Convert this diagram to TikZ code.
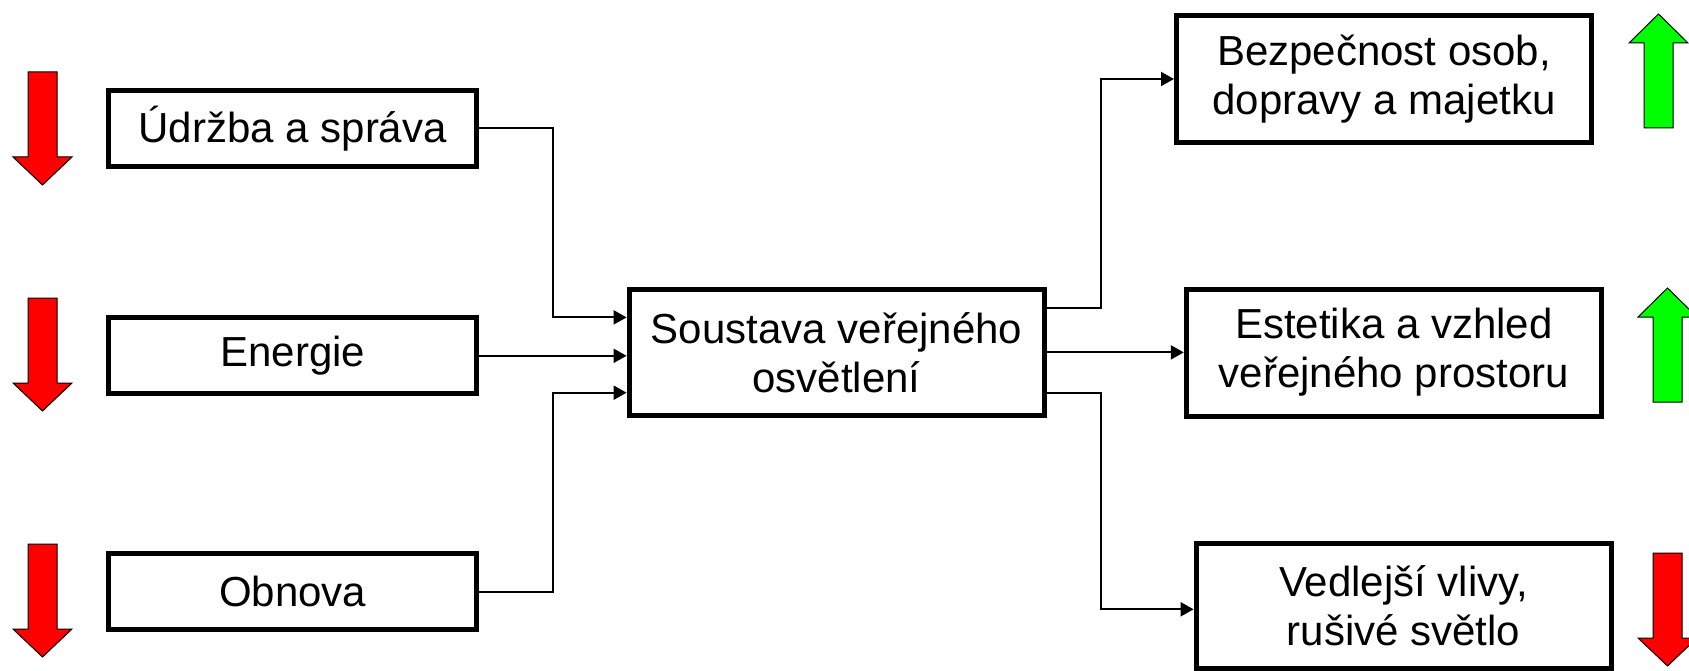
\documentclass[tikz,border=0pt]{standalone}
\usepackage{fontspec}
\setmainfont{Liberation Sans}
\usetikzlibrary{arrows.meta}
\definecolor{trendred}{RGB}{255,0,0}
\definecolor{trendgreen}{RGB}{0,255,0}
\tikzset{
  box/.style={draw=black, line width=5pt, fill=white, inner sep=0pt,
    align=center, font=\fontsize{42}{49}\selectfont},
  inbox/.style={box, minimum width=368pt, minimum height=76pt},
  outbox/.style={box, minimum width=415pt, minimum height=127pt},
  conn/.style={draw=black, line width=2pt, -{Triangle[length=13pt,width=14pt]}},
  link/.style={draw=black, line width=2pt},
  trend/.style={draw=black, line width=1pt, line join=miter},
  pics/trenddown/.style={code={
    \path[pic actions] (-14.5,0) -- (14.5,0) -- (14.5,85) -- (29.5,85)
      -- (0,113) -- (-29.5,85) -- (-14.5,85) -- cycle;}},
  pics/trendup/.style={code={
    \path[pic actions] (0,0) -- (29.5,29) -- (14.5,29) -- (14.5,114)
      -- (-14.5,114) -- (-14.5,29) -- (-29.5,29) -- cycle;}},
}
\begin{document}
\begin{tikzpicture}[x=1pt, y=-1pt]
\useasboundingbox (0,0) rectangle (1689,671);

% inputs
\node[inbox] (u)  at (292.7,128.5) {Údržba a správa};
\node[inbox] (en) at (292.7,355.8) {Energie};
\node[inbox] (o)  at (292.7,591.8) {Obnova};

% system
\node[box, minimum width=415pt, minimum height=126pt] (c) at (836.6,352.4)
  {Soustava veřejného\\osvětlení};

% effects
\node[outbox] (b) at (1384,79)    {Bezpečnost osob,\\dopravy a majetku};
\node[outbox] (e) at (1393.8,352.5) {Estetika a vzhled\\veřejného prostoru};
\node[outbox, minimum height=125pt] (v) at (1403.6,605.5) {Vedlejší vlivy,\\rušivé světlo};

% bus lines
\coordinate (lx) at (552.7,0);
\coordinate (rx) at (1101,0);
\coordinate (cin1)  at ([yshift=35pt]c.west);
\coordinate (cin3)  at ([yshift=-40.3pt]c.west);
\coordinate (cout1) at ([yshift=44.6pt]c.east);
\coordinate (cout3) at ([yshift=-40.3pt]c.east);
\coordinate (vin)   at ([yshift=-3.8pt]v.west);

\draw[conn] (u.east) -| (lx |- cin1) -- (cin1);
\draw[conn] (en.east) -- (en.east -| c.west);
\draw[conn] (o.east) -| (lx |- cin3) -- (cin3);

\draw[conn] (cout1) -| (rx |- b.west) -- (b.west);
\draw[conn] (c.east) -- (c.east -| e.west);
\draw[conn] (cout3) -| (rx |- vin) -- (vin);

% trend arrows
\pic[trend, fill=trendred] at (42.5,72)  {trenddown};
\pic[trend, fill=trendred] at (42.5,298) {trenddown};
\pic[trend, fill=trendred] at (42.5,544) {trenddown};

\pic[trend, fill=trendgreen] at (1658.5,14) {trendup};
\pic[trend, fill=trendgreen] at (1667.5,288) {trendup};
\pic[trend, fill=trendred]   at (1667.5,553) {trenddown};
\end{tikzpicture}
\end{document}
